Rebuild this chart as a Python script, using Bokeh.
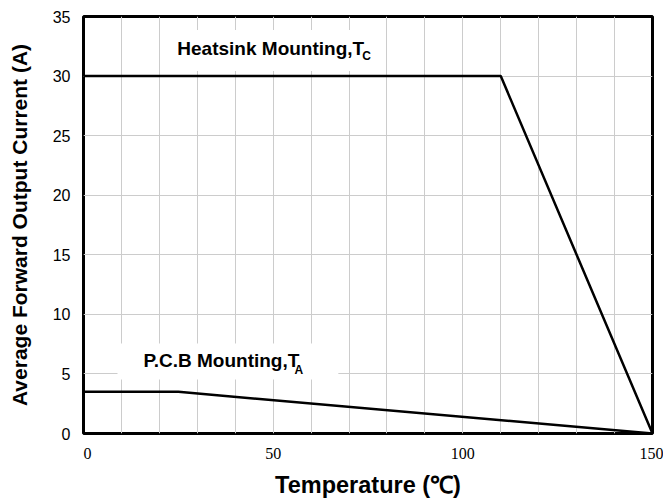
from bokeh.plotting import figure
from bokeh.models import Range1d, Label, FixedTicker
from bokeh.embed import file_html
from bokeh.resources import INLINE

# Data
heatsink_temp = [0, 110, 150]
heatsink_curr = [30, 30, 0]
pcb_temp = [0, 25, 150]
pcb_curr = [3.5, 3.5, 0]
x_ticks = [0, 50, 100, 150]
x_minor = [0, 10, 20, 30, 40, 50, 60, 70, 80, 90, 100, 110, 120, 130, 140, 150]
x_tick_labels = {0: "\u00a0\u00a00", 50: "50", 100: "100", 150: "150"}
y_ticks = [0, 5, 10, 15, 20, 25, 30, 35]

p = figure(width=663, height=500, output_backend="svg", toolbar_location=None,
           x_range=Range1d(0, 150), y_range=Range1d(0, 35),
           min_border_left=83, min_border_right=11, min_border_top=16, min_border_bottom=67)

p.background_fill_color = "white"
p.border_fill_color = "white"
p.outline_line_color = "black"
p.outline_line_width = 3

# grid
p.xaxis.ticker = FixedTicker(ticks=x_ticks, minor_ticks=x_minor)
p.yaxis.ticker = FixedTicker(ticks=y_ticks)
p.xgrid.grid_line_color = None
p.xgrid.minor_grid_line_color = "#cccccc"
p.xgrid.minor_grid_line_width = 1
p.ygrid.grid_line_color = "#cccccc"
p.ygrid.grid_line_width = 1

# axes
for ax in (p.xaxis, p.yaxis):
    ax.axis_line_color = None
    ax.major_tick_line_color = None
    ax.minor_tick_line_color = None
    ax.major_tick_out = 0
    ax.major_tick_in = 0
    ax.minor_tick_out = 0
    ax.minor_tick_in = 0
    ax.major_label_text_color = "black"
    ax.axis_label_text_color = "black"
    ax.axis_label_text_font_style = "bold"
    ax.axis_label_text_font = "Liberation Sans"

p.xaxis.major_label_overrides = x_tick_labels
p.xaxis.major_label_text_font = "Liberation Serif"
p.xaxis.major_label_text_font_size = "16px"
p.xaxis.major_label_standoff = 11
p.xaxis.axis_label = "Temperature (\u2103)"
p.xaxis.axis_label_text_font_size = "23.5px"
p.xaxis.axis_label_standoff = 7

p.yaxis.major_label_text_font = "Liberation Sans"
p.yaxis.major_label_text_font_size = "16px"
p.yaxis.major_label_standoff = 13
p.yaxis.axis_label = "Average Forward Output Current (A)"
p.yaxis.axis_label_text_font_size = "21px"
p.yaxis.axis_label_standoff = 19

# curves
p.line(heatsink_temp, heatsink_curr, line_color="black", line_width=2.5)
p.line(pcb_temp, pcb_curr, line_color="black", line_width=2.5)

# labels
lab1 = Label(x=22.1, y=32.15, text="Heatsink Mounting,T", text_font="Liberation Sans",
             text_font_style="bold", text_font_size="19px", text_baseline="middle",
             text_align="left", text_color="black", background_fill_color="white",
             padding=dict(left=10, right=19, top=8, bottom=12))
sub1 = Label(x=22.1, y=32.15, x_offset=195, y_offset=-6, text="C", text_font="Liberation Sans",
             text_font_style="bold", text_font_size="12px", text_baseline="alphabetic",
             text_align="left", text_color="black")
lab2 = Label(x=8.96, y=6.04, text="P.C.B Mounting,T", text_font="Liberation Sans",
             text_font_style="bold", text_font_size="19px", text_baseline="middle",
             text_align="left", text_color="black", background_fill_color="white",
             padding=dict(left=26, right=39, top=6, bottom=9))
sub2 = Label(x=8.96, y=6.04, x_offset=177, y_offset=-8, text="A", text_font="Liberation Sans",
             text_font_style="bold", text_font_size="12px", text_baseline="alphabetic",
             text_align="left", text_color="black")
for l in (lab1, sub1, lab2, sub2):
    p.add_layout(l)

open("out.html", "w").write(file_html(p, INLINE))
